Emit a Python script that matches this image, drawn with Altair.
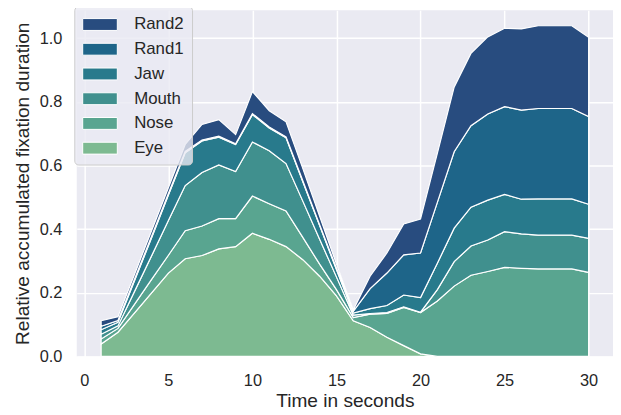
import altair as alt
import pandas as pd

time = list(range(1, 31))

eye = [0.039, 0.076, 0.138, 0.200, 0.262, 0.307, 0.317, 0.338, 0.345, 0.387,
       0.368, 0.345, 0.304, 0.252, 0.190, 0.112, 0.091, 0.060, 0.034, 0.008,
       0.0, 0.0, 0.0, 0.0, 0.0, 0.0, 0.0, 0.0, 0.0, 0.0]
nose = [0.016, 0.012, 0.027, 0.042, 0.056, 0.088, 0.093, 0.095, 0.088, 0.117,
        0.112, 0.112, 0.070, 0.038, 0.020, 0.010, 0.042, 0.075, 0.120, 0.130,
        0.174, 0.221, 0.255, 0.267, 0.280, 0.277, 0.275, 0.275, 0.275, 0.264]
mouth = [0.015, 0.008, 0.041, 0.074, 0.109, 0.142, 0.168, 0.169, 0.148, 0.170,
         0.166, 0.149, 0.114, 0.078, 0.040, 0.008, 0.002, 0.003, 0.002, 0.001,
         0.036, 0.077, 0.092, 0.099, 0.112, 0.108, 0.106, 0.106, 0.106, 0.107]
jaw = [0.014, 0.011, 0.034, 0.057, 0.080, 0.103, 0.099, 0.087, 0.085, 0.086,
       0.072, 0.081, 0.061, 0.043, 0.023, 0.006, 0.015, 0.022, 0.037, 0.046,
       0.083, 0.105, 0.122, 0.125, 0.117, 0.109, 0.114, 0.114, 0.114, 0.107]
rand1 = [0.011, 0.006, 0.005, 0.005, 0.005, 0.004, 0.003, 0.003, 0.002, 0.003,
         0.003, 0.003, 0.003, 0.003, 0.005, 0.006, 0.063, 0.102, 0.126, 0.140,
         0.191, 0.240, 0.256, 0.271, 0.276, 0.280, 0.284, 0.284, 0.284, 0.276]
rand2 = [0.017, 0.012, 0.015, 0.017, 0.018, 0.022, 0.049, 0.052, 0.029, 0.069,
         0.051, 0.047, 0.038, 0.026, 0.012, 0.004, 0.039, 0.063, 0.097, 0.107,
         0.154, 0.203, 0.227, 0.242, 0.246, 0.255, 0.260, 0.260, 0.260, 0.249]

series_names = ["Eye", "Nose", "Mouth", "Jaw", "Rand1", "Rand2"]
series_values = [eye, nose, mouth, jaw, rand1, rand2]
colors = ["#7dba91", "#59a590", "#40908e", "#287a8c", "#1e6589", "#284c7f"]

rows = []
for idx, (name, vals) in enumerate(zip(series_names, series_values)):
    for t, v in zip(time, vals):
        rows.append({"time": t, "value": v, "region": name, "order": idx})
df = pd.DataFrame(rows)

legend_domain = series_names[::-1]
legend_range = colors[::-1]

font = "Liberation Sans"
text_color = "#262626"

chart = alt.Chart(df).mark_area(
    stroke="white", strokeWidth=1.2, interpolate="linear"
).encode(
    x=alt.X("time:Q",
            scale=alt.Scale(domain=[-0.45, 31.45], nice=False, zero=False),
            axis=alt.Axis(values=[0, 5, 10, 15, 20, 25, 30], title="Time in seconds",
                          labelFontSize=16.5, labelPadding=16, titleFontSize=19.3,
                          titlePadding=3, tickSize=0)),
    y=alt.Y("value:Q", stack="zero",
            scale=alt.Scale(domain=[0, 1.088], nice=False),
            axis=alt.Axis(values=[0.0, 0.2, 0.4, 0.6, 0.8, 1.0], format=".1f",
                          title="Relative accumulated fixation duration",
                          labelFontSize=16.5, labelPadding=15, titleFontSize=19.3,
                          titlePadding=7, tickSize=0)),
    color=alt.Color("region:N",
                    scale=alt.Scale(domain=legend_domain, range=legend_range),
                    legend=alt.Legend(title=None, orient="none", legendX=-2.5, legendY=-4,
                                      symbolType="M-1.75,-0.6H1.75V0.6H-1.75Z", symbolSize=400,
                                      symbolOffset=7.5,
                                      symbolStrokeColor="white", symbolStrokeWidth=1,
                                      symbolOpacity=1,
                                      labelFontSize=17, labelOffset=24, rowPadding=6,
                                      padding=8, fillColor="rgba(234,234,242,0.8)",
                                      strokeColor="#cccccc", cornerRadius=4)),
    order=alt.Order("order:Q", sort="ascending"),
).properties(
    width=542, height=350,
    autosize=alt.AutoSizeParams(type="none"),
    padding={"left": 69.5, "top": 0, "right": 0, "bottom": 57},
).configure_view(
    fill="#eaeaf2", stroke=None
).configure_axis(
    domain=False, ticks=False, grid=True, gridColor="white", gridWidth=1.5,
    labelFont=font, titleFont=font, labelColor=text_color, titleColor=text_color,
    titleFontWeight="normal"
).configure_legend(
    labelFont=font, labelColor=text_color
)

chart.save("out.html", embed_options={"renderer": "svg", "actions": False})
